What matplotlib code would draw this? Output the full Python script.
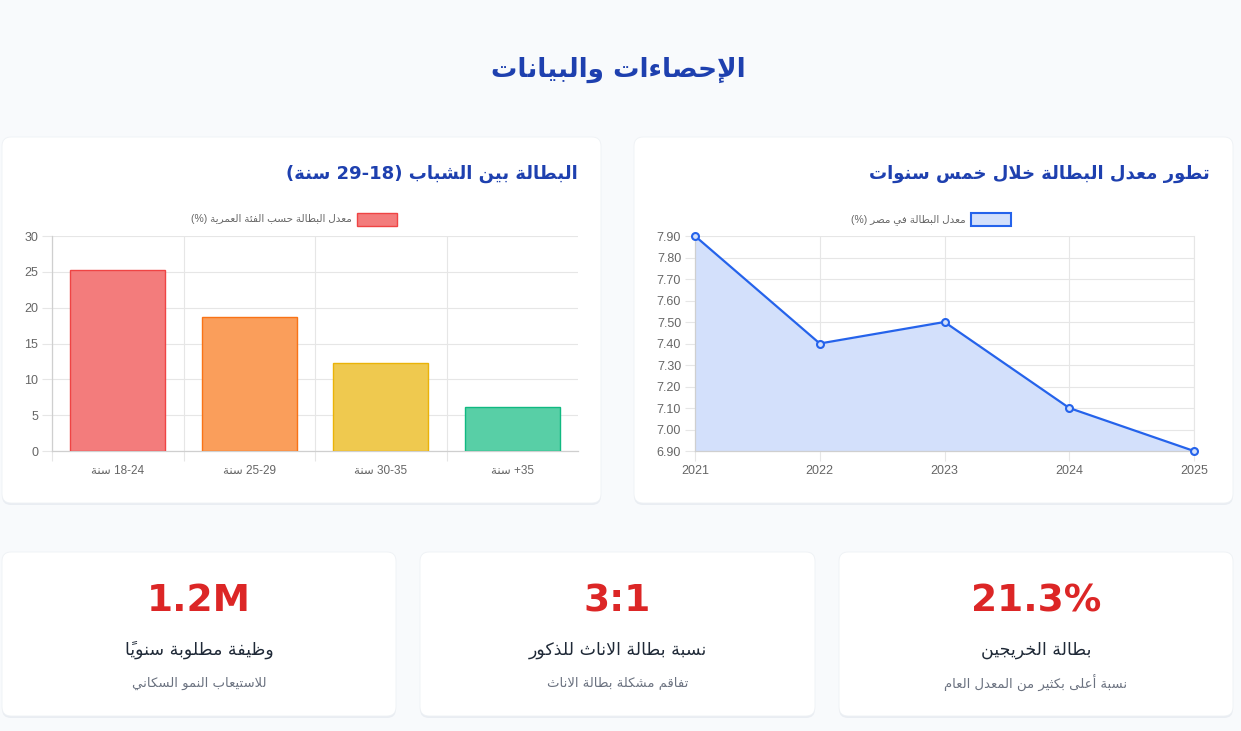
import matplotlib
matplotlib.use('Agg')
import matplotlib.pyplot as plt
from matplotlib.patches import FancyBboxPatch, Rectangle

# --- data ---
page_title = 'الإحصاءات والبيانات'

bar_title = 'البطالة بين الشباب (18-29 سنة)'
bar_legend = 'معدل البطالة حسب الفئة العمرية (%)'
age_groups = ['18-24 سنة', '25-29 سنة', '30-35 سنة', '35+ سنة']
youth_rates = [25.2, 18.7, 12.3, 6.1]
bar_ticks = [0, 5, 10, 15, 20, 25, 30]

line_title = 'تطور معدل البطالة خلال خمس سنوات'
line_legend = 'معدل البطالة في مصر (%)'
years = [2021, 2022, 2023, 2024, 2025]
egypt_rates = [7.9, 7.4, 7.5, 7.1, 6.9]
line_ticks = [6.9, 7.0, 7.1, 7.2, 7.3, 7.4, 7.5, 7.6, 7.7, 7.8, 7.9]

# cards from left to right
card_values = ['1.2M', '3:1', '21.3%']
card_labels = ['وظيفة مطلوبة سنوياً', 'نسبة بطالة الاناث للذكور', 'بطالة الخريجين']
card_notes = ['للاستيعاب النمو السكاني', 'تفاقم مشكلة بطالة الاناث', 'نسبة أعلى بكثير من المعدل العام']

# --- arabic shaping (matplotlib has no bidi / joining) ---
AR_FORMS = {
    'ء': (0xFE80, 1), 'آ': (0xFE81, 2), 'أ': (0xFE83, 2), 'ؤ': (0xFE85, 2), 'إ': (0xFE87, 2),
    'ئ': (0xFE89, 4), 'ا': (0xFE8D, 2), 'ب': (0xFE8F, 4), 'ة': (0xFE93, 2), 'ت': (0xFE95, 4),
    'ث': (0xFE99, 4), 'ج': (0xFE9D, 4), 'ح': (0xFEA1, 4), 'خ': (0xFEA5, 4), 'د': (0xFEA9, 2),
    'ذ': (0xFEAB, 2), 'ر': (0xFEAD, 2), 'ز': (0xFEAF, 2), 'س': (0xFEB1, 4), 'ش': (0xFEB5, 4),
    'ص': (0xFEB9, 4), 'ض': (0xFEBD, 4), 'ط': (0xFEC1, 4), 'ظ': (0xFEC5, 4), 'ع': (0xFEC9, 4),
    'غ': (0xFECD, 4), 'ف': (0xFED1, 4), 'ق': (0xFED5, 4), 'ك': (0xFED9, 4), 'ل': (0xFEDD, 4),
    'م': (0xFEE1, 4), 'ن': (0xFEE5, 4), 'ه': (0xFEE9, 4), 'و': (0xFEED, 2), 'ى': (0xFEEF, 2),
    'ي': (0xFEF1, 4),
    'لآ': (0xFEF5, 2), 'لأ': (0xFEF7, 2), 'لإ': (0xFEF9, 2), 'لا': (0xFEFB, 2),
}
MIRROR = {'(': ')', ')': '('}


def ar(text, join_ranges=True):
    units = []
    i = 0
    while i < len(text):
        ch = text[i]
        if 0x064B <= ord(ch) <= 0x065F and units:
            units[-1][1] += ch
            i += 1
            continue
        if ch == 'ل' and i + 1 < len(text) and text[i + 1] in 'آأإا':
            units.append([text[i:i + 2], ''])
            i += 2
            continue
        units.append([ch, ''])
        i += 1

    shaped = []
    for k, (base, marks) in enumerate(units):
        if base in AR_FORMS:
            code, n = AR_FORMS[base]
            prev = units[k - 1][0] if k > 0 else ''
            nxt = units[k + 1][0] if k + 1 < len(units) else ''
            jp = prev in AR_FORMS and AR_FORMS[prev][1] == 4
            jn = n == 4 and nxt in AR_FORMS
            if n == 4:
                idx = (1 if jp else 0) + (2 if jn else 0)
            elif n == 2:
                idx = 1 if jp else 0
            else:
                idx = 0
            base = chr(code + idx)
        shaped.append(base + marks)

    # which units run left-to-right
    ltr = [u[0].isascii() and u[0].isalnum() for u in shaped]
    if join_ranges:
        for k in range(1, len(shaped) - 1):
            if shaped[k] in '-.:' and ltr[k - 1] and ltr[k + 1]:
                ltr[k] = True
    runs = []
    for u, flag in zip(shaped, ltr):
        if runs and runs[-1][0] == flag:
            runs[-1][1].append(u)
        else:
            runs.append([flag, [u]])
    out = ''
    for flag, us in reversed(runs):
        if flag:
            out += ''.join(us)
        else:
            out += ''.join(MIRROR.get(u, u) for u in reversed(us))
    return out


# --- styles ---
W, H = 1241, 731
BG = '#f8fafc'
BLUE_TITLE = '#1e40af'
GRID = '#e6e6e6'
AXIS = '#cfcfcf'
TICK_TXT = '#666666'
bar_fill = ['#f37c7c', '#fa9e5b', '#efc94f', '#58cfa6']
bar_edge = ['#ef4444', '#f97316', '#eab308', '#10b981']
LINE = '#2563eb'
LINE_FILL = '#d3e0fb'
AR_FONT = ['DejaVu Sans']

plt.rcParams['font.family'] = ['Liberation Sans', 'DejaVu Sans']

fig = plt.figure(figsize=(W / 100, H / 100), dpi=100, facecolor=BG)
bg = fig.add_axes([0, 0, 1, 1])
bg.set_xlim(0, W)
bg.set_ylim(H, 0)
bg.axis('off')
bg.set_facecolor(BG)


def card(x0, y0, x1, y1):
    shadow = FancyBboxPatch((x0, y0 + 2), x1 - x0, y1 - y0,
                            boxstyle='round,pad=0,rounding_size=9',
                            facecolor='#e9edf2', edgecolor='none', zorder=1)
    bg.add_patch(shadow)
    box = FancyBboxPatch((x0, y0), x1 - x0, y1 - y0,
                         boxstyle='round,pad=0,rounding_size=9',
                         facecolor='white', edgecolor='#eef1f5', linewidth=0.6, zorder=2)
    bg.add_patch(box)


bg.text(618, 70, ar(page_title), ha='center', va='center', fontsize=19,
        fontweight='bold', color=BLUE_TITLE, family=AR_FONT, zorder=3)

# chart cards
card(2, 137, 601, 503)
card(634, 137, 1233, 503)
bg.text(578, 174, ar(bar_title, join_ranges=False), ha='right', va='center',
        fontsize=13, fontweight='bold', color=BLUE_TITLE, family=AR_FONT, zorder=3)
bg.text(1210, 174, ar(line_title), ha='right', va='center',
        fontsize=13, fontweight='bold', color=BLUE_TITLE, family=AR_FONT, zorder=3)

# legends
bg.add_patch(Rectangle((357, 213), 40, 13, facecolor=bar_fill[0], edgecolor=bar_edge[0],
                       linewidth=1, zorder=3))
bg.text(352, 219.5, ar(bar_legend), ha='right', va='center', fontsize=7.5,
        color=TICK_TXT, zorder=3)
bg.add_patch(Rectangle((971, 213), 40, 13, facecolor=LINE_FILL, edgecolor=LINE,
                       linewidth=1.5, zorder=3))
bg.text(966, 219.5, ar(line_legend), ha='right', va='center', fontsize=7.5,
        color=TICK_TXT, zorder=3)


def style_axes(ax):
    ax.set_facecolor('white')
    for s in ['top', 'right']:
        ax.spines[s].set_visible(False)
    for s in ['left', 'bottom']:
        ax.spines[s].set_color(AXIS)
        ax.spines[s].set_linewidth(0.9)
    ax.grid(True, color=GRID, linewidth=0.8)
    ax.set_axisbelow(True)
    ax.tick_params(axis='both', which='major', length=7, color=GRID, width=0.8,
                   labelsize=9, labelcolor=TICK_TXT, pad=3)


# bar chart
ax1 = fig.add_axes([52 / W, 1 - 451 / H, 526 / W, 215 / H])
style_axes(ax1)
pos = list(range(len(age_groups)))
ax1.bar(pos, youth_rates, width=0.72, color=bar_fill, edgecolor=bar_edge, linewidth=1, zorder=3)
ax1.set_xlim(-0.5, len(age_groups) - 0.5)
ax1.set_ylim(0, 30)
ax1.set_yticks(bar_ticks)
ax1.set_xticks([p - 0.5 for p in pos])
ax1.set_xticklabels([])
ax1.set_xticks(pos, minor=True)
ax1.set_xticklabels([ar(g) for g in age_groups], minor=True)
ax1.tick_params(axis='x', which='minor', length=0, labelsize=8.5, labelcolor=TICK_TXT, pad=10)
ax1.grid(False, which='minor')

# line chart
ax2 = fig.add_axes([695 / W, 1 - 451 / H, 499 / W, 215 / H])
style_axes(ax2)
ax2.fill_between(years, egypt_rates, 6.9, color=LINE_FILL, zorder=2, linewidth=0)
ax2.plot(years, egypt_rates, color=LINE, linewidth=1.6, marker='o', markersize=5,
         markerfacecolor=LINE_FILL, markeredgecolor=LINE, markeredgewidth=1.5,
         zorder=4, clip_on=False)
ax2.set_xlim(years[0], years[-1])
ax2.set_ylim(6.9, 7.9)
ax2.set_xticks(years)
ax2.set_yticks(line_ticks)
ax2.set_yticklabels(['%.2f' % v for v in line_ticks])
ax2.spines['right'].set_visible(True)
ax2.spines['right'].set_color(GRID)

# stat cards
card_x = [(2, 396), (420, 815), (839, 1233)]
for (x0, x1), val, lab, note in zip(card_x, card_values, card_labels, card_notes):
    card(x0, 552, x1, 716)
    cx = (x0 + x1) / 2
    bg.text(cx, 601, val, ha='center', va='center', fontsize=27, fontweight='bold',
            color='#dc2626', family=AR_FONT, zorder=3)
    bg.text(cx, 650, ar(lab), ha='center', va='center', fontsize=12.5,
            color='#1f2937', family=AR_FONT, zorder=3)
    bg.text(cx, 683, ar(note), ha='center', va='center', fontsize=9.5,
            color='#6b7280', family=AR_FONT, zorder=3)

fig.savefig('out.png', dpi=100, facecolor=BG)
